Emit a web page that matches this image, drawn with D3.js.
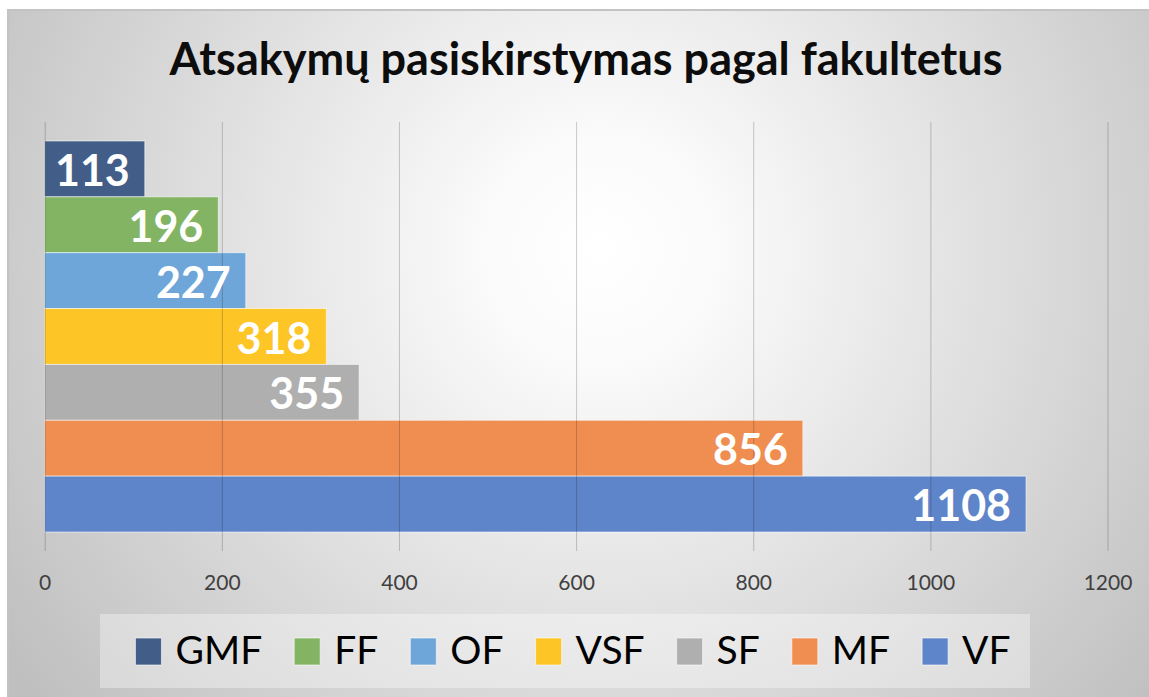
<!DOCTYPE html>
<html lang="lt">
<head>
	<meta charset="utf-8">
	<title>Atsakymų pasiskirstymas pagal fakultetus</title>
	<script src="https://d3js.org/d3.v7.min.js"></script>
	<style type="text/css">
		body {
			margin: 0;
			background: #fff;
		}
		svg {
			display: block;
		}
		text {
			font-family: Lato, "Open Sans", sans-serif;
		}
	</style>
</head>
<body>
	<svg id="chart-svg"></svg>

	<script type="text/javascript">
		// data -------------------------
		let faculties = ['GMF', 'FF', 'OF', 'VSF', 'SF', 'MF', 'VF']
		let answers = [113, 196, 227, 318, 355, 856, 1108]
		let barColors = ['#425d88', '#83b463', '#6fa6d9', '#fdc526', '#afafaf', '#ef8e50', '#5e85c9']
		let xTicks = [0, 200, 400, 600, 800, 1000, 1200]
		let title = 'Atsakymų pasiskirstymas pagal fakultetus'

		// sizes -------------------------
		let w = 1149
		let h = 697
		let left = 44.7
		let right = 1107.5
		let barTop = 141
		let barBottom = 532
		let gridTop = 122
		let gridBottom = 551

		let svg = d3.select('#chart-svg')
			.attr('width', w)
			.attr('height', h)

		// background with radial gradient
		let defs = svg.append('defs')
		let grad = defs.append('radialGradient')
			.attr('id', 'bg')
			.attr('gradientUnits', 'userSpaceOnUse')
			.attr('cx', 600)
			.attr('cy', 250)
			.attr('r', 720)
		grad.append('stop').attr('offset', 0).attr('stop-color', '#ffffff')
		grad.append('stop').attr('offset', 0.15).attr('stop-color', '#fbfbfb')
		grad.append('stop').attr('offset', 1).attr('stop-color', '#bfbfbf')

		svg.append('rect')
			.attr('x', 8)
			.attr('y', 10)
			.attr('width', w)
			.attr('height', h)
			.attr('fill', 'url(#bg)')
			.attr('stroke', '#c3c3c3')
			.attr('stroke-width', 2)

		// title
		svg.append('text')
			.attr('x', 586)
			.attr('y', 75)
			.attr('text-anchor', 'middle')
			.attr('font-weight', 'bold')
			.attr('font-size', 45)
			.attr('fill', '#0d0d0d')
			.text(title)

		// scales
		let xScale = d3.scaleLinear()
			.domain([0, 1200])
			.range([left, right])

		let yScale = d3.scaleBand()
			.domain(faculties)
			.range([barTop, barBottom])
			.padding(0)

		// bars
		svg.append('g')
			.selectAll('rect')
			.data(faculties)
			.enter()
			.append('rect')
			.attr('x', xScale(0))
			.attr('y', (d) => yScale(d))
			.attr('width', (d, i) => xScale(answers[i]) - xScale(0))
			.attr('height', yScale.bandwidth())
			.attr('fill', (d, i) => barColors[i])
			.attr('stroke', 'rgba(255,255,255,0.55)')
			.attr('stroke-width', 1)

		// gridlines (drawn over the bars, like the original)
		let xAxis = d3.axisBottom(xScale)
			.tickValues(xTicks)
			.tickSize(-(gridBottom - gridTop))
			.tickFormat('')

		let gridG = svg.append('g')
			.attr('transform', 'translate(0,' + gridBottom + ')')
			.call(xAxis)
		gridG.select('.domain').remove()
		gridG.selectAll('line')
			.attr('stroke', 'rgba(0,0,0,0.2)')
			.attr('stroke-width', 1)

		// tick labels
		let labelAxis = d3.axisBottom(xScale)
			.tickValues(xTicks)
			.tickSize(0)
			.tickPadding(0)
			.tickFormat(d3.format('d'))

		let labG = svg.append('g')
			.attr('transform', 'translate(0,590)')
			.call(labelAxis)
		labG.select('.domain').remove()
		labG.selectAll('text')
			.attr('dy', 0)
			.attr('y', 0)
			.attr('font-size', 21)
			.attr('font-family', 'Lato, sans-serif')
			.attr('fill', '#404040')

		// value labels
		svg.append('g')
			.selectAll('text')
			.data(faculties)
			.enter()
			.append('text')
			.attr('x', (d, i) => xScale(answers[i]) - 15)
			.attr('y', (d) => yScale(d) + yScale.bandwidth() / 2 + 17)
			.attr('text-anchor', 'end')
			.attr('font-weight', 'bold')
			.attr('font-size', 43)
			.attr('fill', '#ffffff')
			.text((d, i) => answers[i])

		// legend
		svg.append('rect')
			.attr('x', 100)
			.attr('y', 614)
			.attr('width', 930)
			.attr('height', 74)
			.attr('fill', 'rgba(255,255,255,0.35)')

		let legend = svg.append('g')
		let items = legend.selectAll('g')
			.data(faculties)
			.enter()
			.append('g')

		items.append('rect')
			.attr('x', 0)
			.attr('y', 638)
			.attr('width', 26)
			.attr('height', 27)
			.attr('fill', (d, i) => barColors[i])
			.attr('stroke', 'rgba(255,255,255,0.6)')
			.attr('stroke-width', 1)

		items.append('text')
			.attr('x', 40)
			.attr('y', 664)
			.attr('font-size', 39)
			.attr('fill', '#000')
			.text((d) => d)

		// place legend items one after another, centred
		let gap = 32
		let pos = 0
		let offsets = []
		items.each(function() {
			offsets.push(pos)
			let tw = d3.select(this).select('text').node().getComputedTextLength()
			pos += 40 + tw + gap
		})
		let total = pos - gap
		let start = 573 - total / 2
		items.attr('transform', (d, i) => 'translate(' + (start + offsets[i]) + ',0)')
	</script>
</body>
</html>
